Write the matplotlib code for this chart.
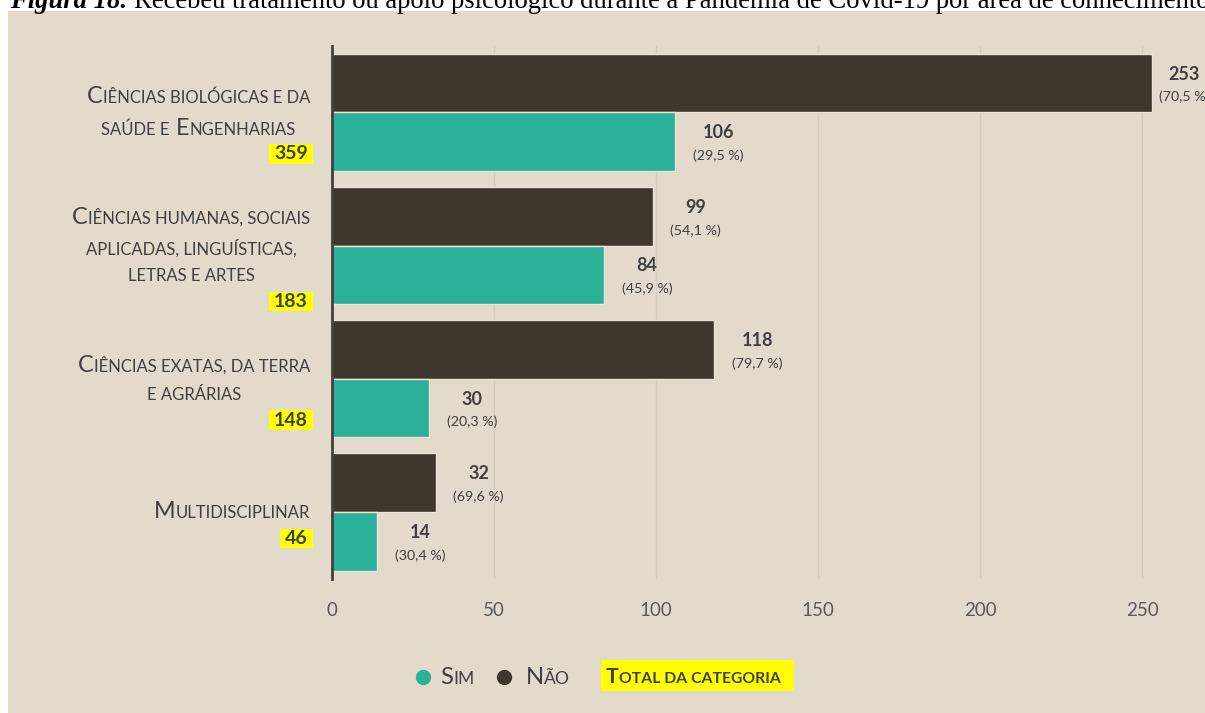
import numpy as np
import matplotlib
matplotlib.use("Agg")
import matplotlib.pyplot as plt
from matplotlib.offsetbox import TextArea, HPacker, VPacker, AnnotationBbox
from matplotlib.transforms import IdentityTransform
from matplotlib.patches import Rectangle
from matplotlib.lines import Line2D
from matplotlib.path import Path

# ---------------- data ----------------
categories = [
    ["Ciências biológicas e da", "saúde e Engenharias"],
    ["Ciências humanas, sociais", "aplicadas, linguísticas,", "letras e artes"],
    ["Ciências exatas, da terra", "e agrárias"],
    ["Multidisciplinar"],
]
sim = [106, 84, 30, 14]
nao = [253, 99, 118, 32]
totals = [359, 183, 148, 46]
sim_pct = ["29,5", "45,9", "20,3", "30,4"]
nao_pct = ["70,5", "54,1", "79,7", "69,6"]
xticks = [0, 50, 100, 150, 200, 250]
title_bold = "Figura 18."
title_rest = "Recebeu tratamento ou apoio psicológico durante a Pandemia de Covid-19 por área de conhecimento"
legend_labels = ["Sim", "Não"]
legend_total = "Total da categoria"

# ---------------- style ----------------
W, H = 1205, 713
BG = "#E3DACB"
TEAL = "#2BB198"
DARK = "#3F372B"
EDGE = "#EAE4D8"
TXT = "#404040"
TICK = "#595959"
GRID = "#D6CDBE"
FONT = "Lato"

fig = plt.figure(figsize=(W / 100, H / 100), dpi=100)
fig.patch.set_facecolor("white")
bg = Rectangle((8, 0), W - 8, H - 11, facecolor=BG, edgecolor="none",
               transform=IdentityTransform(), zorder=-10)
fig.add_artist(bg)

ax_left, ax_top, ax_bot = 332, 45.8, 578.6
ax = fig.add_axes([ax_left / W, 1 - ax_bot / H, (W - ax_left) / W, (ax_bot - ax_top) / H])
ax.set_facecolor("none")

y = np.arange(len(categories))
bh = 0.44
ax.barh(y - bh / 2, nao, height=bh, color=DARK, edgecolor=EDGE, linewidth=1, zorder=3)
ax.barh(y + bh / 2, sim, height=bh, color=TEAL, edgecolor=EDGE, linewidth=1, zorder=3)

px_per_unit = 810 / 250
ax.set_xlim(0, (W - ax_left) / px_per_unit)
ax.set_ylim(len(categories) - 0.5, -0.5)

ax.set_xticks(xticks)
ax.set_xticklabels([str(t) for t in xticks], fontfamily=FONT)
ax.set_yticks([])
ax.xaxis.grid(True, color=GRID, linewidth=1)
ax.set_axisbelow(True)
ax.tick_params(axis="x", length=0, pad=17, labelsize=13.5, labelcolor=TICK)
for s in ["top", "right", "bottom"]:
    ax.spines[s].set_visible(False)
ax.spines["left"].set_color(TXT)
ax.spines["left"].set_linewidth(2)
ax.spines["left"].set_zorder(5)


def value_labels(vals, pcts, ypos):
    for v, p, yy in zip(vals, pcts, ypos):
        end_px = ax.transData.transform((v, 0))[0]
        dx = min(43, 1184 - end_px)
        ax.annotate(str(v), xy=(v, yy), xytext=(dx, 9), textcoords="offset pixels",
                    ha="center", va="center", fontsize=13, fontweight="bold",
                    color=TXT, fontfamily=FONT, annotation_clip=False)
        ax.annotate(f"({p} %)", xy=(v, yy), xytext=(dx, -14), textcoords="offset pixels",
                    ha="center", va="center", fontsize=10.3, color=TXT,
                    fontfamily=FONT, annotation_clip=False)


value_labels(nao, nao_pct, y - bh / 2)
value_labels(sim, sim_pct, y + bh / 2)


def smallcaps(s, big=16.8, small=12, color=TXT, weight="normal"):
    runs = []
    for ch in s:
        isbig = ch.isupper()
        if runs and runs[-1][1] == isbig:
            runs[-1][0] += ch
        else:
            runs.append([ch, isbig])
    # move trailing spaces to start of next run
    for i in range(len(runs) - 1):
        t = runs[i][0]
        stripped = t.rstrip(" ")
        n = len(t) - len(stripped)
        if n and stripped:
            runs[i][0] = stripped
            runs[i + 1][0] = " " * n + runs[i + 1][0]
    children = []
    for t, isbig in runs:
        children.append(TextArea(t if isbig else t.upper(),
                                 textprops=dict(fontsize=big if isbig else small,
                                                color=color, fontweight=weight,
                                                fontfamily=FONT)))
    return HPacker(children=children, align="baseline", pad=0, sep=0)


def badge_style(x0, y0, width, height, mutation_size):
    px, py = 0.28 * mutation_size, 0.07 * mutation_size
    x0, y0, x1, y1 = x0 - px, y0 - py, x0 + width + px, y0 + height + py
    return Path([(x0, y0), (x1, y0), (x1, y1), (x0, y1), (x0, y0)],
                closed=True)


LINE = 29.5
for i, lines in enumerate(categories):
    block = VPacker(children=[smallcaps(l) for l in lines], align="center", pad=0, sep=8.0)
    ab = AnnotationBbox(block, xy=(0, i), xycoords="data", xybox=(-22, 0),
                        boxcoords="offset pixels", box_alignment=(1, 0.5),
                        frameon=False, pad=0, annotation_clip=False)
    ax.add_artist(ab)
    dy = -((len(lines) - 1) / 2 * LINE + 26.5)
    ax.annotate(str(totals[i]), xy=(0, i), xytext=(-24, dy), textcoords="offset pixels",
                ha="right", va="center", fontsize=14, fontweight="bold", color=TXT,
                fontfamily=FONT, annotation_clip=False,
                bbox=dict(boxstyle=badge_style, facecolor="#FFFF00", edgecolor="none"))

# ---------------- legend ----------------
ly = H - 677
for cx, col in [(423, TEAL), (504, DARK)]:
    fig.add_artist(Line2D([cx], [ly], marker="o", markersize=10, color=col,
                          linestyle="none", transform=IdentityTransform()))
for tx, lab in [(440, legend_labels[0]), (526, legend_labels[1])]:
    fig.add_artist(AnnotationBbox(smallcaps(lab, big=17.2, small=12.6, color=TXT), xy=(tx, ly),
                                  xycoords="figure pixels", box_alignment=(0, 0.5),
                                  frameon=False, pad=0))
fig.add_artist(Rectangle((601, H - 691), 193, 31, facecolor="#FFFF00", edgecolor="none",
                         transform=IdentityTransform()))
fig.add_artist(AnnotationBbox(smallcaps(legend_total, big=15.3, small=11.3,
                                        color=TXT, weight="bold"),
                              xy=(606, ly), xycoords="figure pixels",
                              box_alignment=(0, 0.5), frameon=False, pad=0))

# ---------------- title ----------------
t1 = fig.text(10 / W, (H - 7.5) / H, title_bold, fontfamily="Liberation Serif",
              fontsize=19.15, fontweight="bold", style="italic", va="baseline", color="black")
r = fig.canvas.get_renderer()
x1 = t1.get_window_extent(r).x1
fig.text((x1 + 7) / W, (H - 7.5) / H, title_rest, fontfamily="Liberation Serif",
         fontsize=19.15, va="baseline", color="black")

fig.savefig("out.png", dpi=100)
